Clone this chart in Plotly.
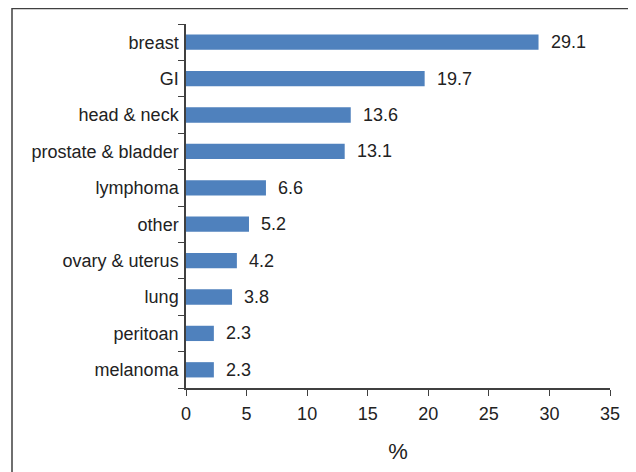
import plotly.graph_objects as go

categories = ["breast", "GI", "head & neck", "prostate & bladder", "lymphoma",
              "other", "ovary & uterus", "lung", "peritoan", "melanoma"]
values = [29.1, 19.7, 13.6, 13.1, 6.6, 5.2, 4.2, 3.8, 2.3, 2.3]
x_ticks = [0, 5, 10, 15, 20, 25, 30, 35]

font = dict(family="Liberation Sans, Arial, sans-serif", size=18, color="#222222")

fig = go.Figure(go.Bar(
    y=categories, x=values, orientation="h",
    marker=dict(color="#4F81BD", line=dict(width=0)),
))

for c, v in zip(categories, values):
    fig.add_annotation(x=v, y=c, text=f"{v:.1f}", showarrow=False,
                       xanchor="left", xshift=10, font=font)

L, R, T, B = 178, 34, 16, 92
W, H = 636, 472
pw, ph = W - L - R, H - T - B

fig.update_layout(
    width=W, height=H, margin=dict(l=L, r=R, t=T, b=B),
    paper_bgcolor="white", plot_bgcolor="white",
    font=font, bargap=0.58, showlegend=False,
    xaxis=dict(range=[0, 35], tickvals=x_ticks, showgrid=False, zeroline=False,
               showline=True, linecolor="#404040", linewidth=1.5,
               ticks="outside", ticklen=6, tickcolor="#404040",
               ticklabelstandoff=3, automargin=False,
               title=dict(text="%", standoff=20), tickfont=font),
    yaxis=dict(categoryorder="array", categoryarray=categories[::-1],
               showgrid=False, zeroline=False, showline=True, automargin=False,
               linecolor="#404040", linewidth=1.5, ticks="outside", ticklen=6,
               tickcolor="#404040", tickson="boundaries", tickfont=font,
               ticklabelstandoff=2),
    shapes=[dict(type="rect", xref="paper", yref="paper",
                 x0=(4 - L) / pw, x1=1.3, y0=-0.5, y1=(H - B - 0.5) / ph,
                 line=dict(color="#404040", width=1.5), layer="below")],
)

fig.write_html("out.html")
